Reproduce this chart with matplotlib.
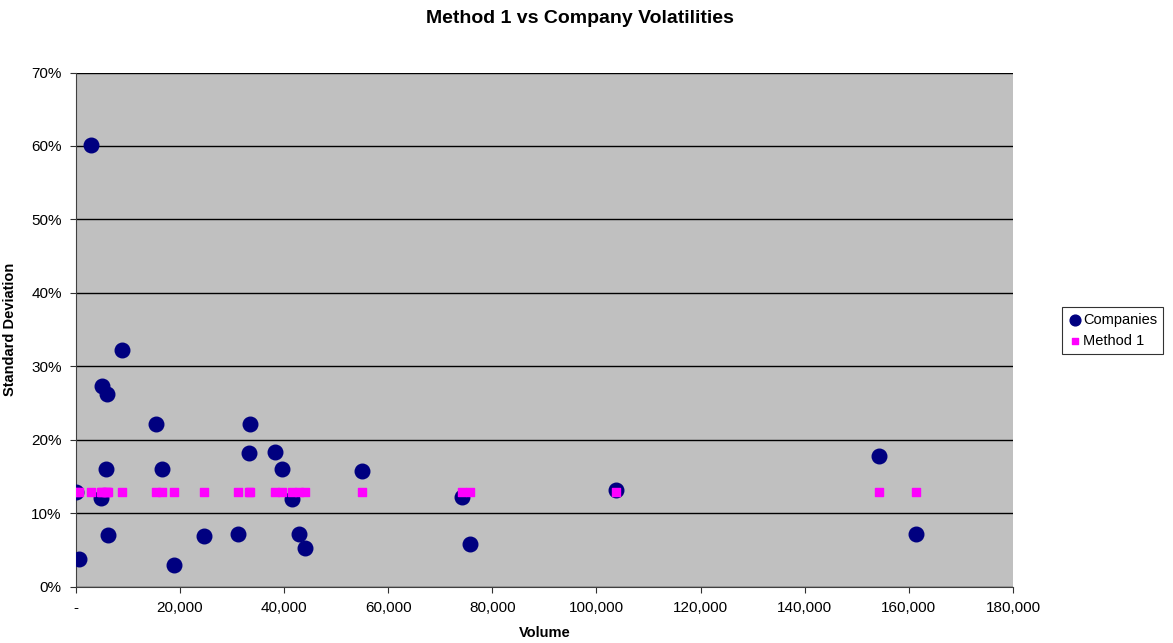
import numpy as np
import matplotlib.pyplot as plt
from matplotlib.ticker import FuncFormatter

plt.rcParams['font.family'] = ['Liberation Sans', 'DejaVu Sans']

# volume of each company and its observed volatility
volume = [0, 640, 2940, 4860, 5050, 5880, 6070, 6140, 8890, 15480, 16500,
          18800, 24700, 31160, 33200, 33400, 38200, 39600, 41470, 42930,
          44080, 54900, 74230, 75700, 103740, 154220, 161330]
company_sd = [0.129, 0.037, 0.602, 0.121, 0.273, 0.160, 0.263, 0.0705, 0.322,
              0.222, 0.160, 0.030, 0.069, 0.072, 0.182, 0.222, 0.183, 0.160,
              0.120, 0.072, 0.053, 0.158, 0.122, 0.058, 0.132, 0.178, 0.072]
# method 1 gives one flat volatility for every company
method1_sd = [0.129] * len(volume)

fig = plt.figure(figsize=(11.73, 6.43), dpi=100)
ax = fig.add_axes([0.0645, 0.0876, 0.7991, 0.7996])
ax.set_facecolor('#C0C0C0')

ax.scatter(volume, company_sd, s=110, color='#000080', label='Companies', zorder=3)
ax.scatter(volume, method1_sd, s=30, marker='s', color='#FF00FF', label='Method 1', zorder=4)

ax.set_xlim(0, 180000)
ax.set_ylim(0, 0.70)
ax.set_xticks(np.arange(0, 180001, 20000))
ax.set_yticks(np.arange(0, 0.71, 0.1))
ax.xaxis.set_major_formatter(FuncFormatter(lambda v, p: '-' if v == 0 else f'{v:,.0f}'))
ax.yaxis.set_major_formatter(FuncFormatter(lambda v, p: f'{v*100:.0f}%'))
ax.yaxis.grid(True, color='black', linewidth=1)
ax.set_axisbelow(True)
ax.tick_params(labelsize=11, direction='out', length=4, color='#303030')
ax.tick_params(axis='x', pad=6)
ax.tick_params(axis='y', pad=6)

for s in ['top', 'right']:
    ax.spines[s].set_visible(False)
for s in ['left', 'bottom']:
    ax.spines[s].set_color('#404040')

ax.set_xlabel('Volume', fontsize=10.5, fontweight='bold', labelpad=8)
ax.set_ylabel('Standard Deviation', fontsize=10.5, fontweight='bold', labelpad=10)
fig.text(0.494, 0.971, 'Method 1 vs Company Volatilities', ha='center', va='center',
         fontsize=14, fontweight='bold')

leg = fig.legend(loc='center left', bbox_to_anchor=(0.905, 0.486), fontsize=10.5,
                 frameon=True, fancybox=False, edgecolor='black', handletextpad=0.1,
                 borderpad=0.4, labelspacing=0.5, handlelength=1.0, borderaxespad=0)
leg.get_frame().set_linewidth(0.8)
for h, sz in zip(leg.legend_handles, [60, 25]):
    h.set_sizes([sz])

fig.savefig('out.png', dpi=100)
